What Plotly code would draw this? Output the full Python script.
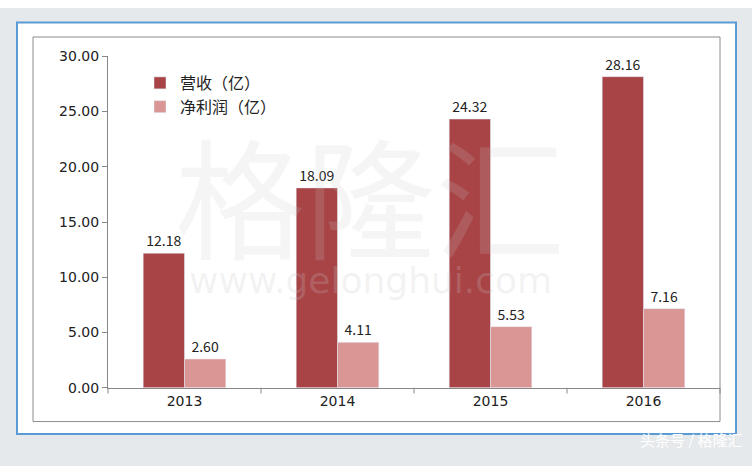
import plotly.graph_objects as go

years = ["2013", "2014", "2015", "2016"]
revenue = [12.18, 18.09, 24.32, 28.16]
profit = [2.60, 4.11, 5.53, 7.16]
y_ticks = [0, 5, 10, 15, 20, 25, 30]

W, H = 752, 474
font = "Noto Sans CJK SC"

fig = go.Figure()
fig.add_trace(go.Bar(x=years, y=revenue, name="营收（亿）", marker_color="#A84446",
                     text=[f"{v:.2f}" for v in revenue], textposition="outside",
                     textfont=dict(size=14, color="#222"), cliponaxis=False))
fig.add_trace(go.Bar(x=years, y=profit, name="净利润（亿）", marker_color="#D99694",
                     text=[f"{v:.2f}" for v in profit], textposition="outside",
                     textfont=dict(size=14, color="#222"), cliponaxis=False))


def px(x0, y0, x1, y1):
    return dict(x0=x0 / W, x1=x1 / W, y0=1 - y1 / H, y1=1 - y0 / H)


shapes = [
    dict(type="rect", xref="paper", yref="paper", layer="below", fillcolor="#E6E9EC",
         line=dict(width=0), **px(0, 0, W, H)),
    dict(type="rect", xref="paper", yref="paper", layer="below", fillcolor="white",
         line=dict(color="#5B9BD5", width=2), **px(17, 15, 736, 441)),
    dict(type="rect", xref="paper", yref="paper", layer="below", fillcolor="white",
         line=dict(color="#8C8C8C", width=1), **px(33, 30, 720, 428)),
]
# category divider ticks on x axis
for i in range(5):
    xx = 108 + i * (720 - 108) / 4
    shapes.append(dict(type="line", xref="paper", yref="paper",
                       line=dict(color="#888", width=1), **px(xx, 393, xx, 399)))

fig.update_layout(
    width=W, height=H,
    margin=dict(l=0, r=0, t=0, b=0),
    paper_bgcolor="white", plot_bgcolor="rgba(0,0,0,0)",
    font=dict(family=font, size=14, color="#222"),
    barmode="group", bargap=0.46, bargroupgap=0,
    showlegend=True,
    legend=dict(x=140 / W, y=1 - 60 / H, xanchor="left", yanchor="top",
                bgcolor="rgba(0,0,0,0)", font=dict(size=16), tracegroupgap=6),
    xaxis=dict(domain=[108 / W, 720 / W], showline=True, linecolor="#888",
               tickfont=dict(size=14, family="DejaVu Sans"), ticks=""),
    yaxis=dict(domain=[1 - 393 / H, 1 - 50 / H], range=[0, 30], tickvals=y_ticks,
               tickformat=".2f", showline=True, linecolor="#888", ticks="outside",
               ticklen=5, tickcolor="#888", showgrid=False, zeroline=False,
               tickfont=dict(size=14, family="DejaVu Sans")),
    shapes=shapes,
    annotations=[
        dict(text="格隆汇", xref="paper", yref="paper", x=370 / W, y=1 - 190 / H,
             showarrow=False, font=dict(size=130, color="rgba(200,200,200,0.18)", family=font)),
        dict(text="www.gelonghui.com", xref="paper", yref="paper", x=370 / W, y=1 - 282 / H,
             showarrow=False, font=dict(size=36, color="rgba(200,200,200,0.22)", family="DejaVu Sans")),
        dict(text="头条号 / 格隆汇", xref="paper", yref="paper", x=745 / W, y=1 - 460 / H,
             xanchor="right", showarrow=False, font=dict(size=15, color="white", family=font)),
    ],
)
fig.write_html("out.html", config=dict(displayModeBar=False),
               post_script="document.body.style.margin='0';document.body.style.overflow='hidden';")
